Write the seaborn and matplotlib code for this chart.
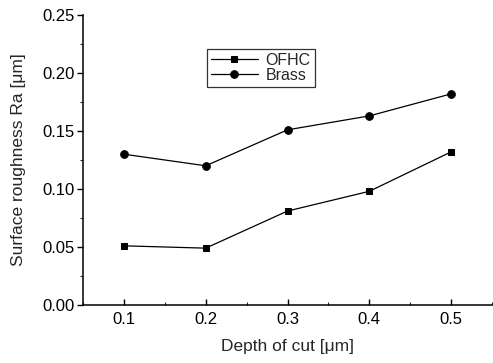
import numpy as np
import pandas as pd
import matplotlib.pyplot as plt
import seaborn as sns
from matplotlib.ticker import MultipleLocator

depth = [0.1, 0.2, 0.3, 0.4, 0.5]
ofhc = [0.051, 0.049, 0.081, 0.098, 0.132]
brass = [0.130, 0.120, 0.151, 0.163, 0.182]

df = pd.DataFrame({'depth': depth, 'OFHC': ofhc, 'Brass': brass})

sns.set_style("ticks")
plt.rcParams['font.family'] = ['Liberation Sans', 'DejaVu Sans']

fig = plt.figure(figsize=(4.93, 3.63), dpi=100)
ax = fig.add_axes([0.1684, 0.1598, 0.8296, 0.7989])

sns.lineplot(x='depth', y='OFHC', data=df, ax=ax, color='black', marker='s',
             markersize=5, linewidth=0.9, markeredgecolor='black', label='OFHC')
sns.lineplot(x='depth', y='Brass', data=df, ax=ax, color='black', marker='o',
             markersize=5.5, linewidth=0.9, markeredgecolor='black', label='Brass')

ax.set_xlim(0.05, 0.55)
ax.set_ylim(0.0, 0.25)
ax.set_xticks(depth)
ax.set_xticklabels(['0.1', '0.2', '0.3', '0.4', '0.5'])
ax.set_yticks([0.0, 0.05, 0.10, 0.15, 0.20, 0.25])
ax.set_yticklabels(['0.00', '0.05', '0.10', '0.15', '0.20', '0.25'])
ax.xaxis.set_minor_locator(MultipleLocator(0.05))
ax.yaxis.set_minor_locator(MultipleLocator(0.025))

ax.tick_params(axis='both', which='major', labelsize=12, width=1, length=4,
               colors='black', direction='out', pad=2)
ax.tick_params(axis='both', which='minor', width=0.8, length=2, direction='out')
ax.tick_params(axis='x', which='both', direction='in', pad=5)

ax.set_xlabel('Depth of cut [μm]', fontsize=12.5, labelpad=9)
ax.set_ylabel('Surface roughness Ra [μm]', fontsize=12.5, labelpad=12)

sns.despine(ax=ax)
for s in ['left', 'bottom']:
    ax.spines[s].set_linewidth(1.1)
    ax.spines[s].set_color('black')

leg = ax.legend(loc='upper left', bbox_to_anchor=(0.302, 0.883), borderaxespad=0,
                fontsize=11.5, frameon=True, fancybox=False, handlelength=3.0,
                handletextpad=0.45, labelspacing=0.0, borderpad=0.25)
leg.get_frame().set_edgecolor('black')
leg.get_frame().set_linewidth(0.9)

fig.savefig('out.png', dpi=100)
